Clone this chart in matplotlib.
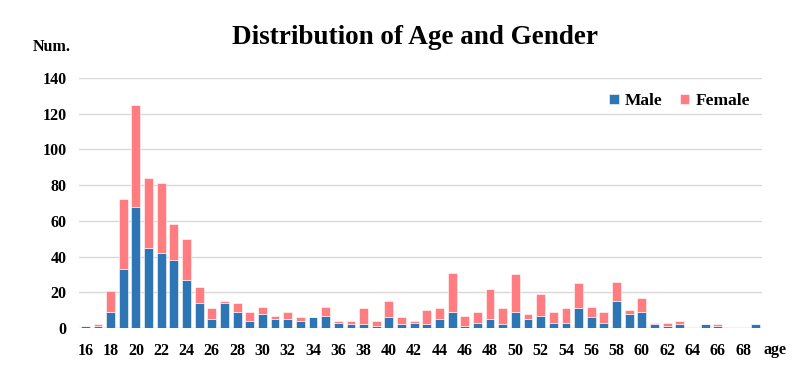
import matplotlib
matplotlib.use("Agg")
import matplotlib.pyplot as plt
import numpy as np

ages = list(range(16, 70))
male = [1, 1, 9, 33, 68, 45, 42, 38, 27, 14, 5, 14, 9, 4, 8, 5, 5, 4, 6, 7,
        3, 2, 2, 1, 6, 2, 3, 2, 5, 9, 1, 3, 5, 2, 9, 5, 7, 3, 3, 11,
        6, 3, 15, 8, 9, 2, 1, 2, 0, 2, 1, 0, 0, 2]
total = [1, 2, 21, 72, 125, 84, 81, 58, 50, 23, 11, 15, 14, 9, 12, 7, 9, 6, 6, 12,
         4, 4, 11, 4, 15, 6, 4, 10, 11, 31, 7, 9, 22, 11, 30, 8, 19, 9, 11, 25,
         12, 9, 26, 10, 17, 3, 3, 4, 0, 2, 2, 0, 0, 2]
female = [t - m for t, m in zip(total, male)]
yticks = [0, 20, 40, 60, 80, 100, 120, 140]
xtick_labels = list(range(16, 70, 2))

plt.rcParams['font.family'] = ['Liberation Serif', 'DejaVu Serif']
plt.rcParams['font.weight'] = 'bold'

fig = plt.figure(figsize=(8.08, 3.77), dpi=100)
ax = fig.add_axes([79/808, 1-328/377, (762-79)/808, (328-78)/377])

x = np.arange(len(ages))
bw = 0.7
ax.bar(x, male, bw, color='#2E75B6', edgecolor='white', linewidth=0.4, label='Male', zorder=3)
ax.bar(x, female, bw, bottom=male, color='#FF7C80', edgecolor='white', linewidth=0.4, label='Female', zorder=3)

ax.set_xlim(-0.5, len(ages) - 0.5)
ax.set_ylim(0, 140)
ax.set_yticks(yticks)
ax.set_yticklabels([str(v) for v in yticks], fontsize=11.5, fontweight='bold')
ax.set_xticks([a - 16 for a in xtick_labels])
ax.set_xticklabels([str(a) for a in xtick_labels], fontsize=11.5, fontweight='bold')
ax.tick_params(axis='x', length=0, pad=11)
ax.tick_params(axis='y', length=0, pad=9)
ax.yaxis.grid(True, color='#D9D9D9', linewidth=1, zorder=0)
for s in ax.spines.values():
    s.set_visible(False)
ax.axhline(0, color='#D9D9D9', linewidth=1, zorder=2)

fig.text(415/808, 1-38/377, 'Distribution of Age and Gender', ha='center', va='center',
         fontsize=19.5, fontweight='bold')
fig.text(52/808, 1-47/377, 'Num.', ha='center', va='center', fontsize=11.5, fontweight='bold')
fig.text(775/808, 1-350/377, 'age', ha='center', va='center', fontsize=11.5, fontweight='bold')

leg = ax.legend(loc='center right', bbox_to_anchor=(1.0, 1-(101-78)/250), ncol=2, frameon=False,
                handlelength=0.55, handleheight=0.55, columnspacing=1.0,
                handletextpad=0.35, borderaxespad=0.3, prop={'weight': 'bold', 'size': 12.5})

fig.savefig('out.png', dpi=100)
